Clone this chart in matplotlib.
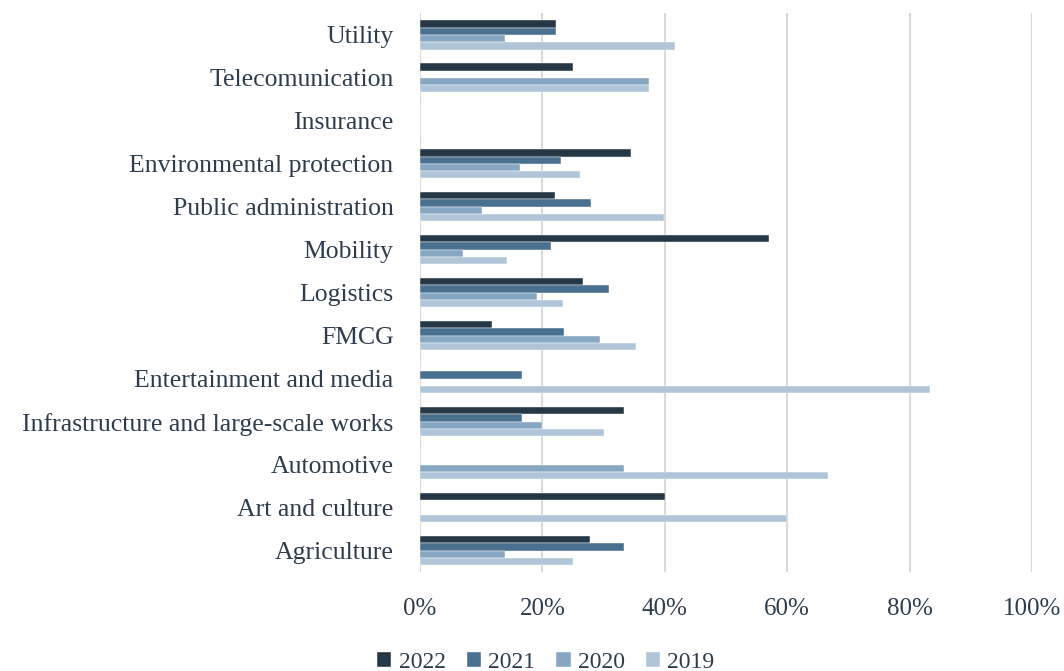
import numpy as np
import matplotlib.pyplot as plt

plt.rcParams['font.family'] = ['Liberation Serif', 'DejaVu Serif']

sectors = ['Agriculture', 'Art and culture', 'Automotive',
           'Infrastructure and large-scale works', 'Entertainment and media',
           'FMCG', 'Logistics', 'Mobility', 'Public administration',
           'Environmental protection', 'Insurance', 'Telecomunication', 'Utility']
years = ['2022', '2021', '2020', '2019']

# share per sector, bottom-to-top order as in `sectors`
v2022 = [27.8, 40.0, 0, 33.3, 0, 11.7, 26.7, 57.1, 22.0, 34.5, 0, 25.0, 22.2]
v2021 = [33.3, 0, 0, 16.7, 16.7, 23.5, 30.9, 21.4, 28.0, 23.0, 0, 0, 22.2]
v2020 = [13.9, 0, 33.3, 20.0, 0, 29.4, 19.1, 7.1, 10.2, 16.4, 0, 37.5, 13.9]
v2019 = [25.0, 60.0, 66.7, 30.0, 83.3, 35.3, 23.3, 14.3, 39.8, 26.2, 0, 37.5, 41.7]

colors = ['#263746', '#4a7090', '#87a6c2', '#b0c6d8']
txt = '#2e3d4d'

fig = plt.figure(figsize=(10.64, 6.71), dpi=100)
ax = fig.add_axes([0.3947, 0.1475, 0.5752, 0.8325])

y = np.arange(len(sectors))
h = 0.17
for i, (vals, c, yr) in enumerate(zip([v2022, v2021, v2020, v2019], colors, years)):
    off = (1.5 - i) * h
    ax.barh(y + off, np.array(vals) / 100, height=h, color=c, label=yr,
            edgecolor='white', linewidth=0.3, zorder=3)

ax.set_xlim(0, 1)
ax.set_ylim(-0.5, len(sectors) - 0.5)
ax.set_xticks(np.arange(0, 1.01, 0.2))
ax.set_xticklabels([f'{int(t*100)}%' for t in np.arange(0, 1.01, 0.2)])
ax.set_yticks(y)
ax.set_yticklabels(sectors)
ax.tick_params(axis='both', length=0, labelcolor=txt)
ax.tick_params(axis='x', pad=19, labelsize=18)
ax.tick_params(axis='y', pad=19, labelsize=18.5)
ax.grid(axis='x', color='#d9d9d9', linewidth=1.5, zorder=0)
for s in ax.spines.values():
    s.set_visible(False)

handles, labels = ax.get_legend_handles_labels()
fig.legend(handles, labels, loc='center', bbox_to_anchor=(0.513, 0.013), ncol=4,
           frameon=False, fontsize=17, labelcolor=txt, handlelength=0.6,
           handleheight=0.6, handletextpad=0.3, columnspacing=0.9)

fig.savefig('out.png', dpi=100)
